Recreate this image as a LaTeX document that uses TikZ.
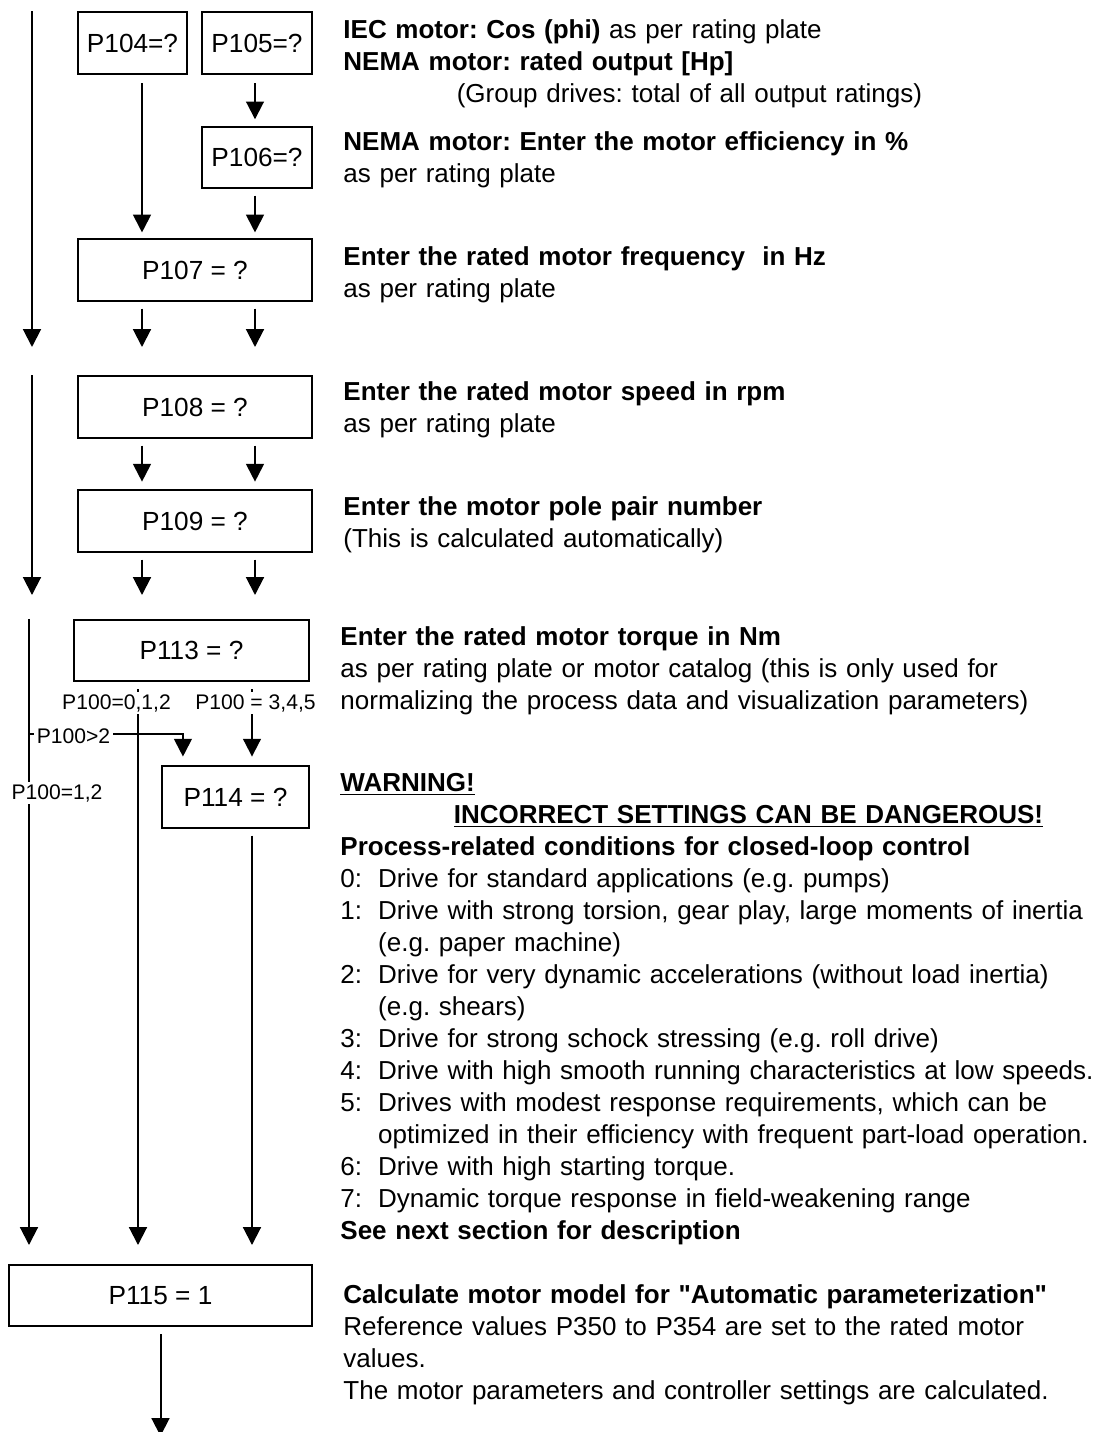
\documentclass[tikz,border=0pt]{standalone}
\usepackage{fontspec}
\setmainfont{Liberation Sans}[Ligatures=TeXOff]
\usetikzlibrary{arrows.meta}

\newcommand{\pnum}[1]{\makebox[17pt][l]{#1}}
\newcommand{\pind}{\hspace*{17pt}}

\tikzset{
  pbox/.style={draw, line width=0.9pt, inner sep=0pt, minimum height=27.5pt, font=\fontsize{11.8}{14.4}\selectfont},
  flow/.style={-{Triangle[length=8pt,width=8pt]}, line width=0.9pt},
  note/.style={anchor=base west, align=left, text width=400pt, inner sep=0pt, font=\fontsize{11.7}{14.4}\selectfont\frenchspacing},
  cond/.style={anchor=base, fill=white, inner sep=1.2pt, font=\fontsize{9.5}{11}\selectfont},
}

\begin{document}
\begin{tikzpicture}[x=0.45pt, y=-0.45pt]
  \useasboundingbox (0,0) rectangle (1096,1432);

  % parameter boxes
  \node[pbox, minimum width=49pt] (p104) at (132.5,43) {P104=?};
  \node[pbox, minimum width=49.5pt] (p105) at (257,43) {P105=?};
  \node[pbox, minimum width=49.5pt] (p106) at (257,157.5) {P106=?};
  \node[pbox, minimum width=105.3pt] (p107) at (195,270) {P107 = ?};
  \node[pbox, minimum width=105.3pt] (p108) at (195,407) {P108 = ?};
  \node[pbox, minimum width=105.3pt] (p109) at (195,521) {P109 = ?};
  \node[pbox, minimum width=105.8pt] (p113) at (191.5,650.5) {P113 = ?};
  \node[pbox, minimum width=66.2pt] (p114) at (235.5,797) {P114 = ?};
  \node[pbox, minimum width=136.4pt] (p115) at (160.5,1295.5) {P115 = 1};

  % columns and rows for the arrows
  \coordinate (busA) at (32,0);
  \coordinate (busB) at (29,0);
  \coordinate (ca) at (142,0);
  \coordinate (cb) at (255,0);
  \coordinate (cc) at (138,0);
  \coordinate (cd) at (252,0);
  \coordinate (row1) at (0,347);
  \coordinate (row2) at (0,595);
  \coordinate (row3) at (0,1245);
  \coordinate (bottom) at (0,1436);
  \coordinate (tap) at (29,734);

  % first group
  \draw[flow] (p104.north -| busA) -- (row1 -| busA);
  \draw[flow, shorten <=4pt, shorten >=2.7pt] (p104.south -| ca) -- (p107.north -| ca);
  \draw[flow, shorten <=4pt, shorten >=3pt] (p105.south -| cb) -- (p106.north -| cb);
  \draw[flow, shorten <=3pt, shorten >=2.7pt] (p106.south -| cb) -- (p107.north -| cb);
  \draw[flow, shorten <=3.2pt] (p107.south -| ca) -- (row1 -| ca);
  \draw[flow, shorten <=3.2pt] (p107.south -| cb) -- (row1 -| cb);

  % second group
  \draw[flow] (p108.north -| busA) -- (row2 -| busA);
  \draw[flow, shorten <=3.2pt, shorten >=3.5pt] (p108.south -| ca) -- (p109.north -| ca);
  \draw[flow, shorten <=3.2pt, shorten >=3.5pt] (p108.south -| cb) -- (p109.north -| cb);
  \draw[flow, shorten <=3.2pt] (p109.south -| ca) -- (row2 -| ca);
  \draw[flow, shorten <=3.2pt] (p109.south -| cb) -- (row2 -| cb);

  % third group
  \draw[flow] (p113.north -| busB) -- (row3 -| busB);
  \draw[flow, shorten <=3.2pt] (p113.south -| cc) -- (row3 -| cc);
  \draw[flow, shorten <=3.2pt, shorten >=4pt] (p113.south -| cd) -- (p114.north -| cd);
  \draw[flow, shorten >=4pt] (tap) -| ([xshift=9.9pt]p114.north west);
  \draw[flow, shorten <=3.2pt] (p114.south -| cd) -- (row3 -| cd);
  \draw[flow, shorten <=3.2pt] (p115.south) -- (p115.south |- bottom);

  % conditions
  \node[cond] (c012) at (116.5,709) {P100=0,1,2};
  \node[cond] (c345) at (255.5,709) {P100 = 3,4,5};
  \node[cond] (cgt2) at (73.5,743) {P100>2};
  \node[cond] (c12) at (57,799) {P100=1,2};

  % notes
  \node[note] (n104) at (343,38) {\textbf{IEC motor: Cos (phi)} as per rating plate\\
    \textbf{NEMA motor: rated output [Hp]}\\
    \hspace*{51pt}(Group drives: total of all output ratings)};
  \node[note] (n106) at (343,150) {\textbf{NEMA motor: Enter the motor efficiency in \%}\\
    as per rating plate};
  \node[note] (n107) at (343,265) {\textbf{Enter the rated motor frequency\ \ in Hz}\\
    as per rating plate};
  \node[note] (n108) at (343,400) {\textbf{Enter the rated motor speed in rpm}\\
    as per rating plate};
  \node[note] (n109) at (343,515) {\textbf{Enter the motor pole pair number}\\
    (This is calculated automatically)};
  \node[note] (n113) at (340,645) {\textbf{Enter the rated motor torque in Nm}\\
    as per rating plate or motor catalog (this is only used for\\
    normalizing the process data and visualization parameters)};
  \node[note] (n114) at (340,791) {\textbf{\underline{WARNING!}}\\
    \hspace*{51pt}\textbf{\underline{INCORRECT SETTINGS CAN BE DANGEROUS!}}\\
    \textbf{Process-related conditions for closed-loop control}\\
    \pnum{0:}Drive for standard applications (e.g. pumps)\\
    \pnum{1:}Drive with strong torsion, gear play, large moments of inertia\\
    \pind(e.g. paper machine)\\
    \pnum{2:}Drive for very dynamic accelerations (without load inertia)\\
    \pind(e.g. shears)\\
    \pnum{3:}Drive for strong schock stressing (e.g. roll drive)\\
    \pnum{4:}Drive with high smooth running characteristics at low speeds.\\
    \pnum{5:}Drives with modest response requirements, which can be\\
    \pind optimized in their efficiency with frequent part-load operation.\\
    \pnum{6:}Drive with high starting torque.\\
    \pnum{7:}Dynamic torque response in field-weakening range\\
    \textbf{See next section for description}};
  \node[note] (n115) at (343,1303) {\textbf{Calculate motor model for "Automatic parameterization"}\\
    Reference values P350 to P354 are set to the rated motor\\
    values.\\
    The motor parameters and controller settings are calculated.};
\end{tikzpicture}
\end{document}
